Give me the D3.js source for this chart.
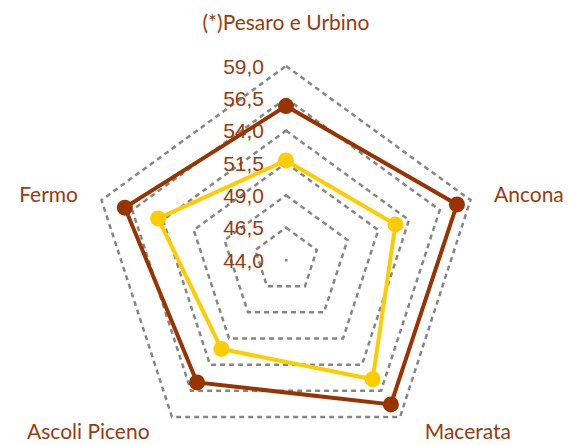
<!DOCTYPE html>
<html>
<head>
<meta charset="utf-8">
<script src="https://cdn.jsdelivr.net/npm/d3@7"></script>
<style>
  body { margin: 0; background: #fff; }
  svg text { font-family: Lato, "Open Sans", sans-serif; }
</style>
</head>
<body>
<svg id="chart" width="569" height="445"></svg>
<script>
// Provinces, clockwise from the top
var categories = ["(*)Pesaro e Urbino", "Ancona", "Macerata", "Ascoli Piceno", "Fermo"];
var seriesDark = [55.9, 57.9, 57.8, 55.7, 57.1];
var seriesYellow = [51.7, 52.9, 55.4, 52.5, 54.4];
var ticks = [44.0, 46.5, 49.0, 51.5, 54.0, 56.5, 59.0];

var svg = d3.select("#chart");
var cx = 286, cy = 260, R = 194;
var labelColor = "#9c3a0c";

var rScale = d3.scaleLinear().domain([44, 59]).range([0, R]);
var angle = function(i){ return i * 2 * Math.PI / categories.length; };

function pt(v, i){
    var r = rScale(v);
    return [cx + r * Math.sin(angle(i)), cy - r * Math.cos(angle(i))];
}

var line = d3.line().curve(d3.curveLinearClosed);

// dashed grid rings
var rings = svg.append("g");
ticks.slice(1).forEach(function(t){
    rings.append("path")
        .attr("d", line(categories.map(function(c,i){ return pt(t,i); })))
        .attr("fill", "none")
        .attr("stroke", "#868686")
        .attr("stroke-width", 2.5)
        .attr("stroke-dasharray", "5,4");
});
rings.append("rect")
    .attr("x", cx - 1).attr("y", cy - 1)
    .attr("width", 2.5).attr("height", 2.5)
    .attr("fill", "#868686");

// tick labels
var fmt = function(d){ return d3.format(".1f")(d).replace(".", ","); };
svg.append("g").selectAll("text").data(ticks).enter()
    .append("text")
    .attr("x", cx - 22)
    .attr("y", function(d){ return cy - rScale(d); })
    .attr("dy", "0.36em")
    .attr("text-anchor", "end")
    .attr("fill", labelColor)
    .style("font-family", "'Liberation Sans', Arial, sans-serif")
    .style("font-size", "21px")
    .text(fmt);

// series
function drawSeries(data, color){
    var pts = data.map(function(v,i){ return pt(v,i); });
    var g = svg.append("g");
    g.append("path")
        .attr("d", line(pts))
        .attr("fill", "none")
        .attr("stroke", color)
        .attr("stroke-width", 4)
        .attr("stroke-linejoin", "miter");
    g.selectAll("circle").data(pts).enter()
        .append("circle")
        .attr("cx", function(d){ return d[0]; })
        .attr("cy", function(d){ return d[1]; })
        .attr("r", 8)
        .attr("fill", color);
}
drawSeries(seriesYellow, "#ffcc00");
drawSeries(seriesDark, "#993300");

// category labels
var labelPos = [
    {x: 286, y: 30, anchor: "middle"},
    {x: 494, y: 202, anchor: "start"},
    {x: 511, y: 439, anchor: "end"},
    {x: 27, y: 439, anchor: "start"},
    {x: 78, y: 202, anchor: "end"}
];
svg.append("g").selectAll("text").data(categories).enter()
    .append("text")
    .attr("x", function(d,i){ return labelPos[i].x; })
    .attr("y", function(d,i){ return labelPos[i].y; })
    .attr("text-anchor", function(d,i){ return labelPos[i].anchor; })
    .attr("fill", labelColor)
    .style("font-size", "21px")
    .text(function(d){ return d; });
</script>
</body>
</html>
